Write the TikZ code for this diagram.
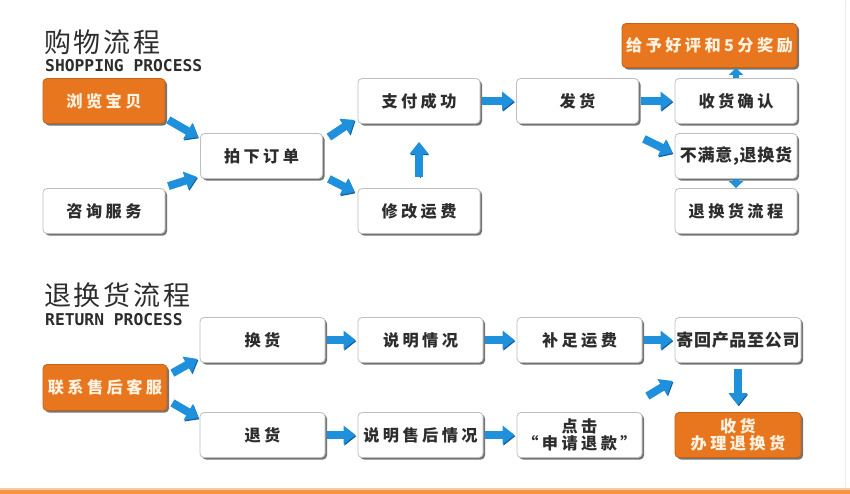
\documentclass[tikz,border=0pt]{standalone}
\usepackage{fontspec}
\usetikzlibrary{arrows.meta,shadows,calc}
\newfontfamily\cjk{Noto Sans CJK SC}
\newfontfamily\cjksp{Noto Sans CJK SC}[LetterSpace=21]
\newfontfamily\cjkti{Noto Sans CJK SC}[LetterSpace=10]
\newfontfamily\cjktight{Noto Sans CJK SC}[LetterSpace=4]
\newfontfamily\monob{DejaVu Sans Mono}
\definecolor{arrowblue}{RGB}{30,144,220}
\definecolor{arrowdark}{RGB}{22,96,160}
\definecolor{orangec}{RGB}{232,118,30}
\definecolor{cream}{RGB}{255,242,224}
\definecolor{txt}{RGB}{45,45,45}
\definecolor{lineor}{RGB}{242,150,70}
\begin{document}
\begin{tikzpicture}[x=1pt,y=-1pt,
  box/.style={draw=black!25, line width=0.8pt, fill=white, rounded corners=4pt,
    minimum width=122pt, minimum height=45pt, inner sep=0pt, align=center,
    drop shadow={shadow xshift=2pt, shadow yshift=-2pt, fill=black!60, opacity=0.9},
    font=\cjksp\bfseries\fontsize{16.2}{17}\selectfont, text=txt},
  wbox/.style={box, minimum width=125pt},
  obox/.style={box, fill=orangec, draw=orangec!85!black, text=cream},
  tightfont/.style={font=\cjktight\bfseries\fontsize{17}{19}\selectfont},
  barrow/.style={draw=arrowblue, line width=8pt,
    -{Triangle[width=18pt,length=12pt]},
    preaction={draw=arrowdark, transform canvas={shift={(0.8pt,-1.2pt)}}}},
  sarrow/.style={draw=arrowblue, line width=6pt,
    -{Triangle[width=14pt,length=7pt]}},
  hgap/.style={shorten <=2pt, shorten >=2pt},
  titlecn/.style={anchor=base west, inner sep=0pt, text=txt,
    font=\cjkti\fontsize{27}{30}\selectfont},
  titleen/.style={anchor=base west, inner sep=0pt, text=txt,
    font=\monob\bfseries\fontsize{16.3}{18}\selectfont}
]
\fill[white] (0,0) rectangle (850,493);
\draw[black!7, line width=1pt] (845,0) -- (845,487);
\fill[lineor] (0,489) rectangle (850,493);
\fill[lineor!50] (0,487.5) rectangle (850,489);

% titles
\node[titlecn] (t1) at (44,52) {购物流程};
\node[titleen] (t1e) at (45,70.5) {SHOPPING PROCESS};
\node[titlecn] (t2) at (44,305) {退换货流程};
\node[titleen] (t2e) at (45,325) {RETURN PROCESS};

% shopping process
\node[obox] (browse) at (104,100.5) {浏览宝贝};
\node[box] (consult) at (104,210.5) {咨询服务};
\node[box] (order) at (261.5,155.5) {拍下订单};
\node[box] (pay) at (419,100.5) {支付成功};
\node[box] (fee) at (419,210.5) {修改运费};
\node[box] (ship) at (577.5,100.5) {发货};
\node[box] (confirm) at (736,100.5) {收货确认};
\node[obox, minimum width=175pt, minimum height=44pt] (rate) at (709.5,45) {给予好评和5分奖励};
\node[box, tightfont] (unhappy) at (736,155.5) {不满意,退换货};
\node[box] (process) at (736,210.5) {退换货流程};

\draw[barrow] ([shift={(3,-4)}]browse.south east) -- ([shift={(-2,4)}]order.north west);
\draw[barrow] ([shift={(3,-2)}]consult.north east) -- ([shift={(-3,-2)}]order.south west);
\draw[barrow] ([shift={(6,4)}]order.north east) -- ([shift={(-3,-4)}]pay.south west);
\draw[barrow] ([shift={(6,0)}]order.south east) -- ([shift={(-3,4)}]fee.north west);
\draw[barrow, shorten <=11pt, shorten >=18pt] (fee.north) -- (pay.south);
\draw[barrow, hgap] (pay) -- (ship);
\draw[barrow, hgap] (ship) -- (confirm);
\draw[sarrow] (confirm.north) -- (confirm.north |- rate.south);
\draw[barrow] ([shift={(5,15)}]ship.south east) -- ([shift={(-2,-3)}]unhappy.west);
\draw[sarrow] (unhappy.south) -- (process.north);

% return process
\node[wbox] (exchange) at (262.5,339.5) {换货};
\node[wbox] (explain) at (420.5,339.5) {说明情况};
\node[wbox] (supplement) at (579.5,339.5) {补足运费};
\node[wbox, minimum width=126pt, tightfont] (send) at (738,339.5) {寄回产品至公司};
\node[obox, minimum width=124pt, minimum height=46pt] (contact) at (105,387) {联系售后客服};
\node[wbox] (return) at (262.5,434.5) {退货};
\node[wbox] (explain2) at (420.5,434.5) {说明售后情况};
\node[wbox] (click) at (579.5,434.5) {点击\\“申请退款”};
\node[obox, minimum width=126pt] (receive) at (738,434.5) {收货\\办理退换货};

\draw[barrow] ([shift={(5,9)}]contact.north east) -- ([shift={(-2,-4)}]exchange.south west);
\draw[barrow] ([shift={(5,-8)}]contact.south east) -- ([shift={(-1,6)}]return.north west);
\draw[barrow, hgap] (exchange) -- (explain);
\draw[barrow, hgap] (explain) -- (supplement);
\draw[barrow, hgap] (supplement) -- (send);
\draw[barrow, hgap] (return) -- (explain2);
\draw[barrow, hgap] (explain2) -- (click);
\draw[barrow] ([shift={(5,-16)}]click.north east) -- ([shift={(-2,18)}]send.south west);
\draw[barrow, shorten <=6pt, shorten >=7pt] (send.south) -- (receive.north);
\end{tikzpicture}
\end{document}
